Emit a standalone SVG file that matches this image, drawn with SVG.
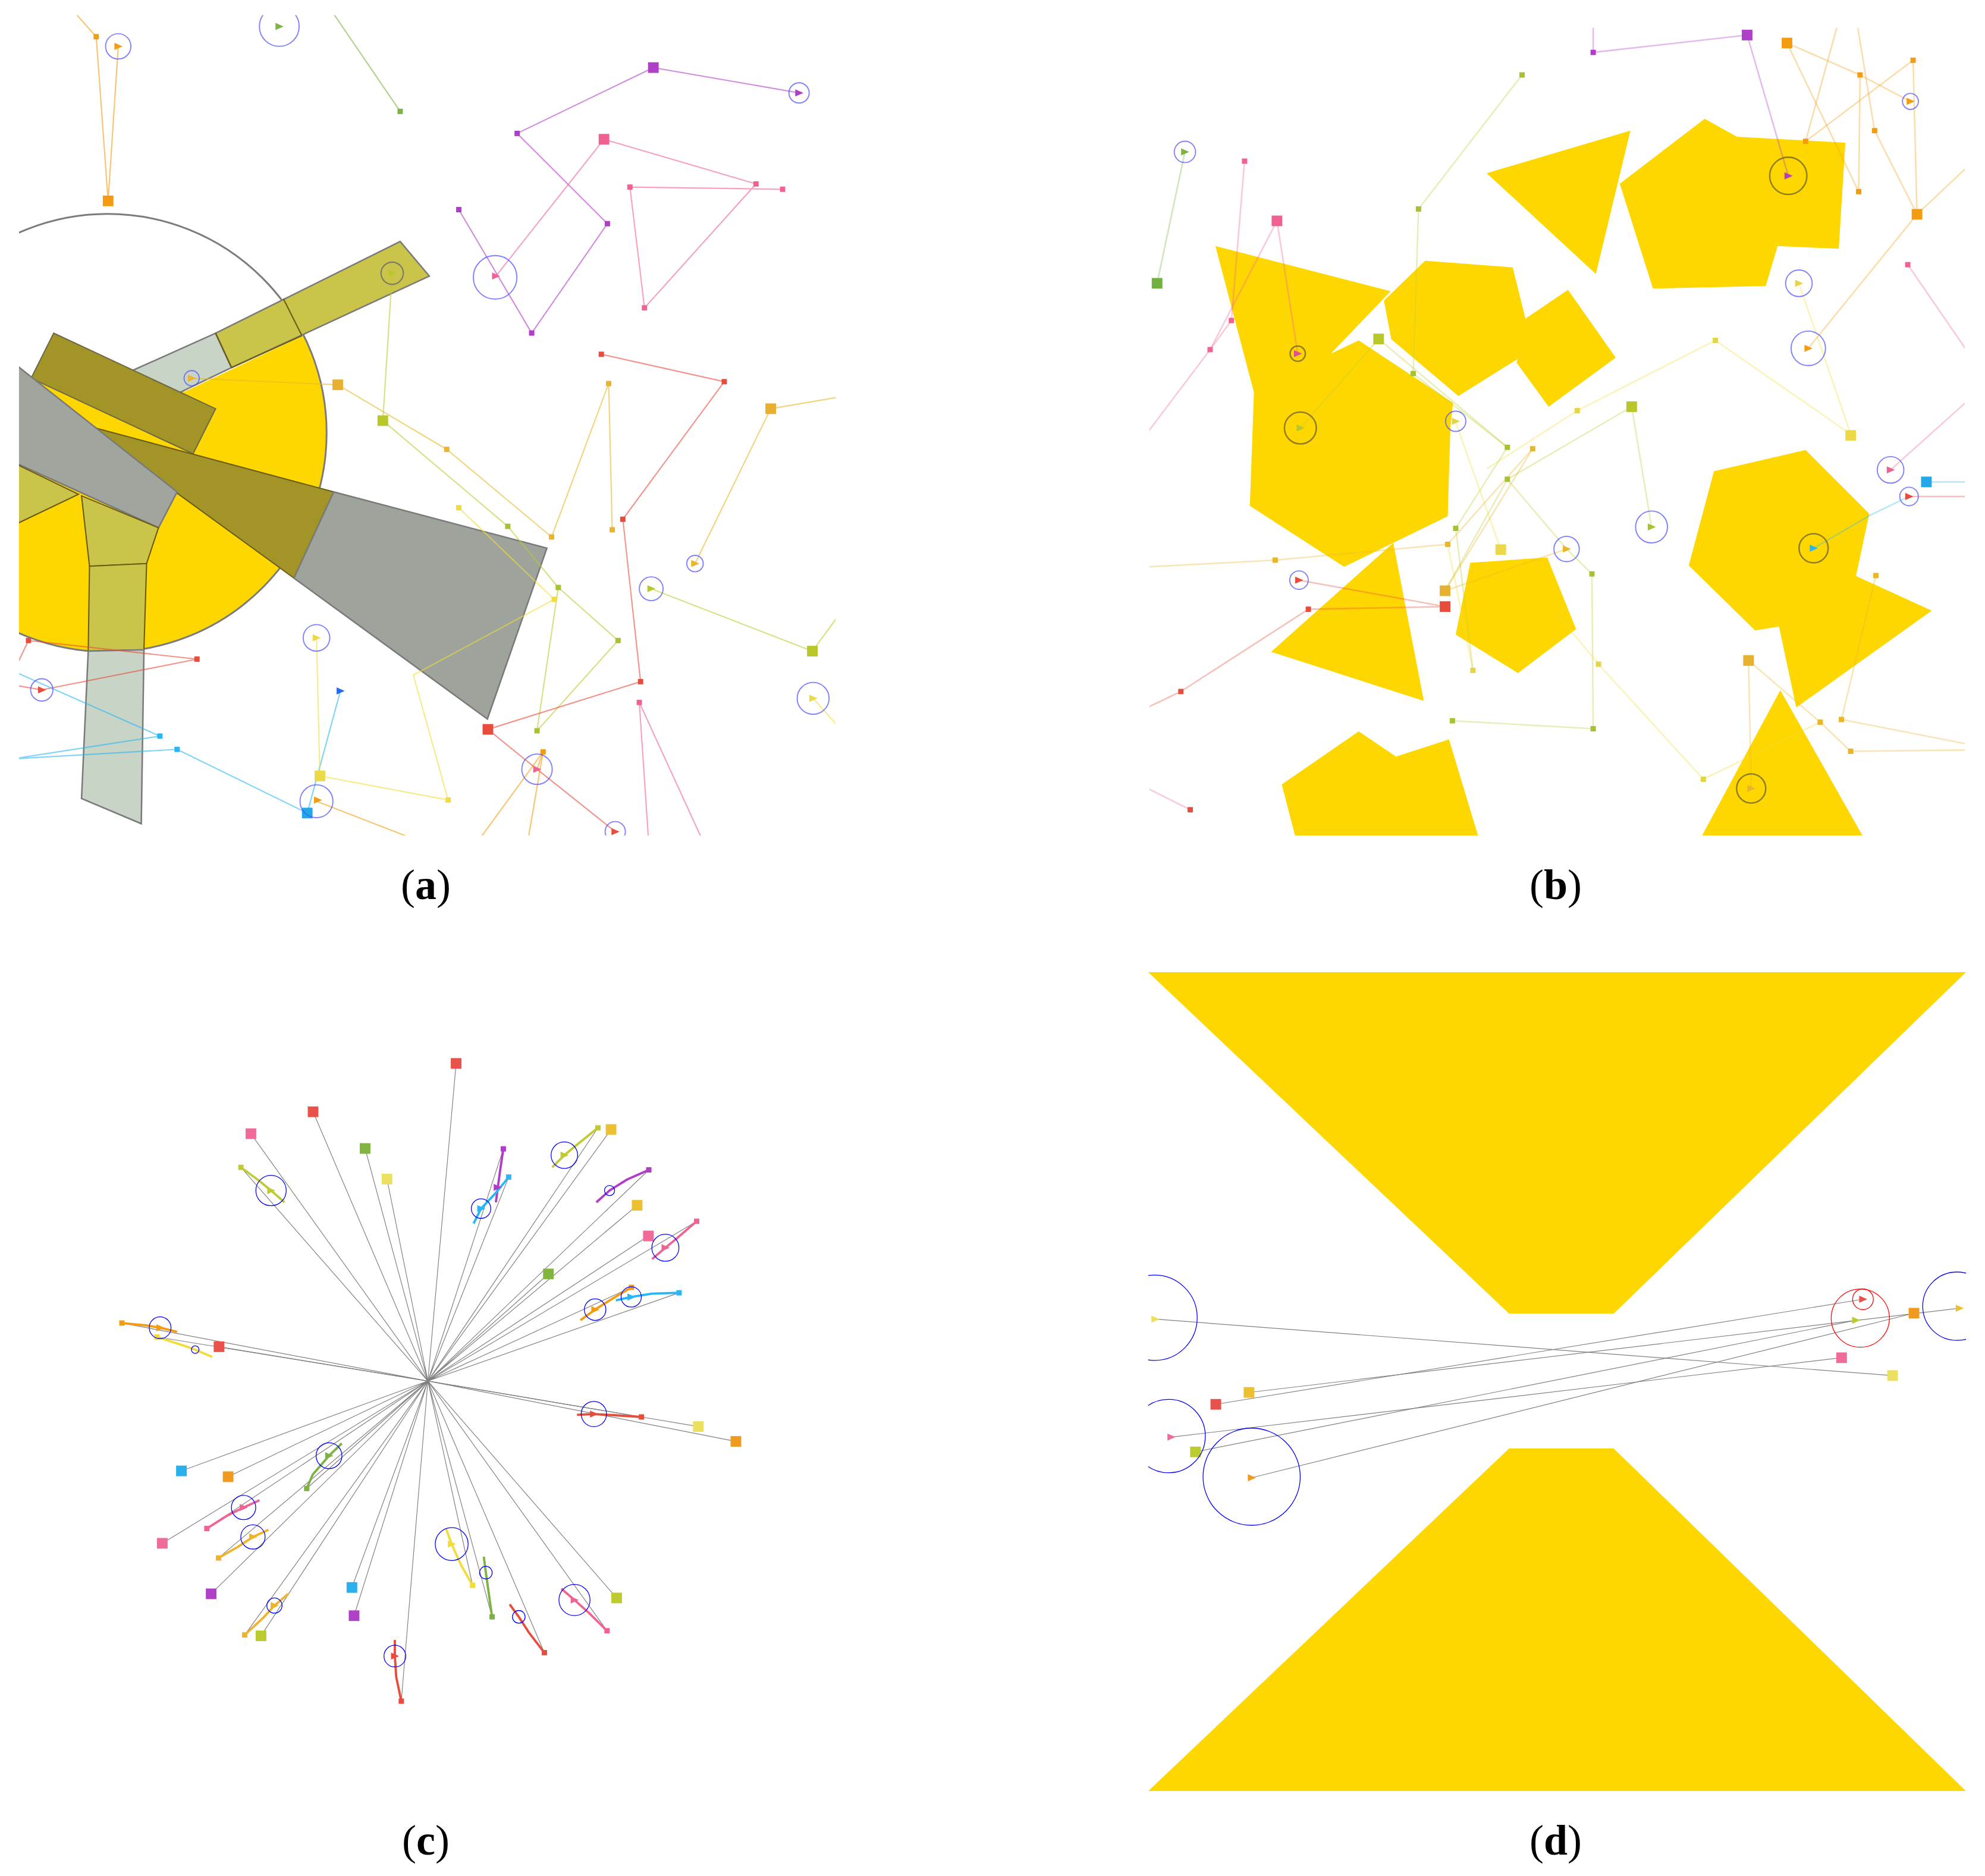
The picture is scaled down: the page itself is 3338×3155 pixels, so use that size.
<svg xmlns="http://www.w3.org/2000/svg" width="3338" height="3155" viewBox="0 0 3338 3155">
<style>
.ln{fill:none;stroke-width:1;stroke-linejoin:round;stroke-linecap:round}
.la{stroke-opacity:0.6}
.lb{stroke-opacity:0.35;stroke-width:1.2}
.bc{fill:none;stroke:#4d4dff;stroke-opacity:0.7;stroke-width:0.9}
.gc{fill:none;stroke:#6e6230;stroke-opacity:0.75;stroke-width:1.2}
.bo{stroke:#6b5d15;stroke-width:1}
.bg{stroke:#7a7a7a;stroke-width:1.2}
.yl{fill:#FFD700}
.gl{stroke:#808080;stroke-width:0.55;fill:none}
.pc{fill:none;stroke-width:1.8;stroke-linejoin:round}
.cb{fill:none;stroke:#0000ff;stroke-width:0.6}
.lab{font-family:'Liberation Serif','Times New Roman',serif;font-size:72px;fill:#000}
</style>
<defs>
<rect id="s" x="-2.1" y="-2.1" width="4.2" height="4.2"/>
<rect id="S" x="-4.2" y="-4.2" width="8.4" height="8.4"/>
<path id="t" d="M-3,-2.8 L3.4,0 L-3,2.8 Z"/>
<clipPath id="clipA"><rect x="15" y="12" width="645" height="648"/></clipPath>
<clipPath id="circA"><circle cx="85" cy="342" r="173"/></clipPath>
<clipPath id="clipB"><rect x="908" y="22" width="644" height="638"/></clipPath>
<clipPath id="clipD"><rect x="907" y="768" width="646" height="647"/></clipPath>
</defs>
<rect width="3338" height="3155" fill="#fff"/>
<g transform="scale(2.12883)">
<!-- ============ PANEL A ============ -->
<g id="panel-a" clip-path="url(#clipA)">
<circle cx="85" cy="342" r="173" fill="#fff"/>
<polygon class="yl" points="-10,270 25,298 146,309.3 339,218 400,218 400,700 -10,700" clip-path="url(#circA)"/>
<circle cx="85" cy="342" r="173" fill="none" stroke="#7b7b7b" stroke-width="1.4"/>
<polygon class="bg" fill="#c8d5c6" points="95,297 170.3,263.2 182.9,290.4 140,311"/>
<polygon class="bg" fill="#cbc44a" points="170.3,263.2 316.1,190.8 339.1,218.1 182.9,290.4"/>
<line class="bo" x1="170.3" y1="263.2" x2="182.9" y2="290.4"/>
<line class="bo" x1="223.8" y1="235.9" x2="238.5" y2="265.2"/>
<line class="bo" x1="182.9" y1="290.4" x2="238.5" y2="265.2"/>
<polygon fill="#a39428" stroke="#6f6a45" stroke-width="1" points="42.4,263.2 170.3,322.9 152.5,358.5 24.6,298.8"/>
<polygon class="bo" fill="#a39428" points="60,334 263.6,388.6 232.2,456.7 139.9,389.6"/>
<polygon class="bg" fill="#9ea39b" points="263.6,388.6 432,433 385,568 232.2,456.7"/>
<polygon class="bg" fill="#a0a59e" points="-5,274.4 139.9,388.6 125.2,416.9 -5,357.8"/>
<polygon class="bo" fill="#cbc44a" points="-5,358 62,390.5 -5,422.5"/>
<polygon class="bo" fill="#cbc44a" points="64.4,391.7 125.2,416.9 115.8,445.2 70.7,447.3"/>
<polygon class="bo" fill="#cbc44a" points="70.7,447.3 115.8,445.2 113.7,513.3 69.7,514.4"/>
<polygon class="bg" fill="#c8d5c6" points="69.7,514.4 113.7,513.3 111.6,650.7 64.4,630.8"/>
<g class="ln la">
<polyline stroke="#f39c12" points="60,11 76,29 85.4,158.7 93.4,36.6"/>
<polyline stroke="#f39c12" points="250,633 330,664"/>
<polyline stroke="#f39c12" points="378,664 429,594 417,664"/>
<line stroke="#f39c12" x1="429" y1="594" x2="424.2" y2="607.7"/>
<line stroke="#7cb342" x1="263.6" y1="11" x2="316.1" y2="88"/>
<polyline stroke="#c0ca33" points="309.8,215.9 302.4,332.3 401.1,415.8 441,464.1 488.2,506 424.2,577.3 441,464.1"/>
<polyline stroke="#c0ca33" points="514.4,465.1 641.7,514.4 664,484"/>
<polyline stroke="#eab52a" points="151.4,298.8 266.8,304 352.9,355 435.7,424.2 480.8,303 483.6,418.5"/>
<polyline stroke="#eab52a" points="664,313.5 608.8,322.9 549,445.2"/>
<polyline stroke="#b03cc8" points="631.2,73.4 516.1,53.4 408.5,105.4 479.8,176.7 420,263.1 362.4,165.6"/>
<polyline stroke="#f06292" points="391.7,218.1 477.1,110 597.2,145.3 509.1,243.2 497.6,147.8 618.2,149.5"/>
<polyline stroke="#f06292" points="512.3,664 505,554.9 555,664"/>
<polyline stroke="#e74c3c" points="475,279.9 572.1,301.5 492,410.2 506,538.5 385.4,576.2 424.2,607.7 486,657"/>
<polyline stroke="#e74c3c" points="10,532 22.5,506 155.6,520.7 33,545 10,541"/>
<polyline stroke="#29b6f6" points="10,530 126.3,581.5 10,599.5 139.9,592 242.7,642.3 268.9,545.8"/>
<polyline stroke="#f2dc3a" points="250,503.9 252.7,613 354,632 326.5,533.3 437.8,473.5 362.4,401.1"/>
<line stroke="#f2dc3a" x1="642.3" y1="551.7" x2="664" y2="576"/>
</g>
<g id="a-markers">
<use href="#s" x="76" y="29" fill="#f39c12"/><use href="#s" x="429" y="594" fill="#f39c12"/>
<use href="#s" x="316.1" y="88" fill="#7cb342"/>
<use href="#s" x="401.1" y="415.8" fill="#a5c233"/><use href="#s" x="441" y="464.1" fill="#a5c233"/><use href="#s" x="488.2" y="506" fill="#a5c233"/><use href="#s" x="424.2" y="577.3" fill="#a5c233"/>
<use href="#s" x="352.9" y="355" fill="#eab52a"/><use href="#s" x="435.7" y="424.2" fill="#eab52a"/><use href="#s" x="480.8" y="303" fill="#eab52a"/><use href="#s" x="483.6" y="418.5" fill="#eab52a"/>
<use href="#s" x="408.5" y="105.4" fill="#b03cc8"/><use href="#s" x="479.8" y="176.7" fill="#b03cc8"/><use href="#s" x="420" y="263.1" fill="#b03cc8"/><use href="#s" x="362.4" y="165.6" fill="#b03cc8"/>
<use href="#s" x="597.2" y="145.3" fill="#f06292"/><use href="#s" x="509.1" y="243.2" fill="#f06292"/><use href="#s" x="497.6" y="147.8" fill="#f06292"/><use href="#s" x="618.2" y="149.5" fill="#f06292"/><use href="#s" x="505" y="554.9" fill="#f06292"/>
<use href="#s" x="475" y="279.9" fill="#e74c3c"/><use href="#s" x="572.1" y="301.5" fill="#e74c3c"/><use href="#s" x="492" y="410.2" fill="#e74c3c"/><use href="#s" x="506" y="538.5" fill="#e74c3c"/><use href="#s" x="22.5" y="506" fill="#e74c3c"/><use href="#s" x="155.6" y="520.7" fill="#e74c3c"/>
<use href="#s" x="126.3" y="581.5" fill="#29b6f6"/><use href="#s" x="139.9" y="592" fill="#29b6f6"/>
<use href="#s" x="354" y="632" fill="#f2dc3a"/><use href="#s" x="362.4" y="401.1" fill="#f2dc3a"/><use href="#s" x="437.8" y="473.5" fill="#f2dc3a"/>
<use href="#S" x="85.4" y="158.7" fill="#f39c12"/>
<use href="#S" x="302.4" y="332.3" fill="#b8c82a"/><use href="#S" x="641.7" y="514.4" fill="#b8c82a"/>
<use href="#S" x="266.8" y="304" fill="#e8b030"/><use href="#S" x="608.8" y="322.9" fill="#e8b030"/>
<use href="#S" x="516.1" y="53.4" fill="#b040c8"/>
<use href="#S" x="477.1" y="110" fill="#f06090"/>
<use href="#S" x="385.4" y="576.2" fill="#e84c3c"/>
<use href="#S" x="242.7" y="642.3" fill="#20a8e8"/>
<use href="#S" x="252.7" y="613" fill="#ecd94a"/>
<use href="#t" x="93.4" y="36.6" fill="#f39c12"/>
<use href="#t" x="220.6" y="20.9" fill="#7cb342"/>
<use href="#t" x="631.2" y="73.4" fill="#b03cc8"/>
<use href="#t" x="391.7" y="218.1" fill="#f06292"/>
<use href="#t" x="151.4" y="298.8" fill="#eab52a"/>
<use href="#t" x="549" y="445.2" fill="#eab52a"/>
<use href="#t" x="514.4" y="465.1" fill="#b8c82a"/>
<use href="#t" x="642.3" y="551.7" fill="#ecd94a"/>
<use href="#t" x="424.2" y="607.7" fill="#f06292"/>
<use href="#t" x="486" y="657" fill="#e74c3c"/>
<use href="#t" x="33" y="545" fill="#e74c3c"/>
<use href="#t" x="250" y="503.9" fill="#ecd94a"/>
<use href="#t" x="251" y="632" fill="#f39c12"/>
<use href="#t" x="309.8" y="215.9" fill="#b8c82a"/>
<use href="#t" x="268.9" y="545.8" fill="#2a6ae8"/>
<circle class="bc" cx="93.4" cy="36.6" r="10"/>
<circle class="bc" cx="220.6" cy="20.9" r="15.7"/>
<circle class="bc" cx="631.2" cy="73.4" r="8"/>
<circle class="bc" cx="391.1" cy="219.1" r="17.2"/>
<circle class="bc" cx="151.4" cy="298.8" r="6"/>
<circle class="bc" cx="549" cy="445.2" r="6.5"/>
<circle class="bc" cx="514.4" cy="465.1" r="9.4"/>
<circle class="bc" cx="642.3" cy="551.7" r="12.6"/>
<circle class="bc" cx="424.2" cy="607.7" r="12"/>
<circle class="bc" cx="486" cy="657" r="8"/>
<circle class="bc" cx="33" cy="545" r="8.8"/>
<circle class="bc" cx="250" cy="503.9" r="10.5"/>
<circle class="bc" cx="250" cy="633" r="13"/>
<circle fill="none" stroke="#7a7a6a" stroke-width="1" cx="309.8" cy="215.9" r="8.8"/>
</g>
</g>
<!-- ============ PANEL B ============ -->
<g id="panel-b" clip-path="url(#clipB)">
<g class="yl">
<polygon points="1174.4,136.8 1287.9,103.2 1260.6,216.4"/>
<polygon points="1279.5,145.2 1346.6,93.8 1372,108 1457.7,112.7 1452.5,196.5 1404.2,194.4 1394.8,225.9 1305.7,228"/>
<polygon points="960.1,194.4 1098.5,230.1 1051.3,279.4 1073.3,268.9 1147.8,318.2 1145.7,337.7 1143.6,407.9 1061.8,447.8 987.3,399.6 990.5,310"/>
<polygon points="1125.7,206 1194.9,211.2 1211,276 1152,312.9 1099,268 1093.2,237.4"/>
<polygon points="1204.4,252.1 1238.6,229 1276.3,282.5 1223.3,321.3 1198.1,286.7"/>
<polygon points="1004.1,514.9 1100.6,428.9 1124.7,553.7"/>
<polygon points="1161.4,444.6 1222.2,440.4 1245,497 1199.1,531.7 1149.9,501.3"/>
<polygon points="1012.5,619.7 1073.3,577.8 1102.7,597.7 1144.6,584.1 1168.7,664 1024,664"/>
<polygon points="1353.9,372.3 1426.3,355.5 1476.6,405.8 1466.1,455.1 1525.9,482.4 1418.9,558.9 1405.3,495 1386.4,498.1 1334,446.7"/>
<polygon points="1406.3,545.3 1473.4,664 1342.4,664"/>
</g>
<g class="ln lb">
<line stroke="#7cb342" x1="936" y1="120" x2="914" y2="223.8"/>
<polyline stroke="#f06292" points="983.1,127.3 972.7,253.2 955.9,276.2 904,345"/>
<polyline stroke="#f06292" points="955.9,276.2 1008.7,174.5 1025.1,279.4"/>
<line stroke="#f06292" x1="904" y1="621.5" x2="940.2" y2="639.7"/>
<polyline stroke="#c0ca33" points="1202.3,59.2 1120.5,165.1 1116.3,295.1 1190.7,353.4"/>
<polyline stroke="#c0ca33" points="1027.2,338.1 1089,267.8 1190.7,353.4 1149.9,417.4 1163.5,529.6"/>
<polyline stroke="#c0ca33" points="1304.6,416.3 1288.9,321.3 1190.7,378.6 1141.5,466.7"/>
<polyline stroke="#c0ca33" points="1190.7,378.6 1237.5,433.7 1257.5,453.4 1258.5,575.7 1147.3,569.4"/>
<polyline stroke="#b03cc8" points="1258.5,20 1258.5,41.4 1380.1,27.7 1412.6,138.9"/>
<polyline stroke="#f39c12" points="1509.1,80.1 1469.3,59.2 1411.6,34 1468.2,151.4"/>
<polyline stroke="#f39c12" points="1451.4,20 1426.3,111.6 1511.2,47.6 1514.3,169.3"/>
<polyline stroke="#f39c12" points="1467.2,20 1480.8,103.2 1514.3,169.3 1428.4,275.2"/>
<line stroke="#f39c12" x1="1514.3" y1="169.3" x2="1555" y2="131"/>
<line stroke="#f39c12" x1="1469.3" y1="59.2" x2="1468.2" y2="151.4"/>
<polyline stroke="#f2dc3a" points="1421,223.8 1461.9,343 1355,268.9 1245.9,324.4 1175,370"/>
<polyline stroke="#f2dc3a" points="1149.9,333.5 1185.5,434.2"/>
<polyline stroke="#f2dc3a" points="1230,485 1262.7,524.7 1345.5,615.6 1437.8,570.5"/>
<polyline stroke="#f2dc3a" points="1143.6,430 1163.5,529.6"/>
<polyline stroke="#eab52a" points="904,448 1007.3,442.5 1143.6,430 1210.7,354.5"/>
<polyline stroke="#eab52a" points="1141.5,466.7 1210.7,354.5"/>
<polyline stroke="#eab52a" points="1141.5,466.7 1237.5,433.7"/>
<polyline stroke="#eab52a" points="1383.3,622.9 1381.2,521.8 1437.8,570.5 1461.9,593.5 1555,592.5"/>
<polyline stroke="#eab52a" points="1481.8,454.7 1454.6,568.4 1555,588"/>
<polyline stroke="#e74c3c" points="1026.1,458.3 1141.5,479.2 1033.5,481.3 932.8,546.3 904,560"/>
<line stroke="#e74c3c" x1="1508" y1="392.2" x2="1555" y2="392.2"/>
<line stroke="#f06292" x1="1507" y1="209.1" x2="1555" y2="279"/>
<line stroke="#f06292" x1="1493.4" y1="371.2" x2="1555" y2="316"/>
<line stroke="#29b6f6" x1="1521.7" y1="380.7" x2="1555" y2="380.7"/>
<polyline stroke="#29b6f6" points="1432.6,433.1 1477.6,406.9 1508,392.2"/>
</g>
<g id="b-markers">
<use href="#S" x="914" y="223.8" fill="#72b040"/>
<use href="#S" x="1008.7" y="174.5" fill="#f06090"/>
<use href="#S" x="1089" y="267.8" fill="#b8c82a"/>
<use href="#S" x="1288.9" y="321.3" fill="#b8c82a"/>
<use href="#S" x="1380.1" y="27.7" fill="#b040c8"/>
<use href="#S" x="1411.6" y="34" fill="#f39c12"/>
<use href="#S" x="1514.3" y="169.3" fill="#f39c12"/>
<use href="#S" x="1461.9" y="344" fill="#ecd94a"/>
<use href="#S" x="1185.5" y="434.2" fill="#ecd94a"/>
<use href="#S" x="1141.5" y="466.7" fill="#e8b030"/>
<use href="#S" x="1141.5" y="479.2" fill="#e84c3c"/>
<use href="#S" x="1381.2" y="521.8" fill="#e8b030"/>
<use href="#S" x="1521.7" y="380.7" fill="#20a8e8"/>
<use href="#s" x="983.1" y="127.3" fill="#f06292"/><use href="#s" x="972.7" y="253.2" fill="#f06292"/><use href="#s" x="955.9" y="276.2" fill="#f06292"/><use href="#s" x="940.2" y="639.7" fill="#e74c3c"/><use href="#s" x="1507" y="209.1" fill="#f06292"/>
<use href="#s" x="1202.3" y="59.2" fill="#a5c233"/><use href="#s" x="1120.5" y="165.1" fill="#a5c233"/><use href="#s" x="1116.3" y="295.1" fill="#a5c233"/><use href="#s" x="1190.7" y="353.4" fill="#a5c233"/><use href="#s" x="1190.7" y="378.6" fill="#a5c233"/><use href="#s" x="1149.9" y="417.4" fill="#a5c233"/><use href="#s" x="1163.5" y="529.6" fill="#e2d54a"/><use href="#s" x="1147.3" y="569.4" fill="#a5c233"/><use href="#s" x="1257.5" y="453.4" fill="#a5c233"/><use href="#s" x="1258.5" y="575.7" fill="#a5c233"/>
<use href="#s" x="1258.5" y="41.4" fill="#b03cc8"/>
<use href="#s" x="1469.3" y="59.2" fill="#f39c12"/><use href="#s" x="1511.2" y="47.6" fill="#f39c12"/><use href="#s" x="1480.8" y="103.2" fill="#f39c12"/><use href="#s" x="1426.3" y="111.6" fill="#f39c12"/><use href="#s" x="1468.2" y="151.4" fill="#f39c12"/>
<use href="#s" x="1355" y="268.9" fill="#e2d54a"/><use href="#s" x="1245.9" y="324.4" fill="#e2d54a"/><use href="#s" x="1262.7" y="524.7" fill="#e2d54a"/><use href="#s" x="1345.5" y="615.6" fill="#e2d54a"/>
<use href="#s" x="1007.3" y="442.5" fill="#eab52a"/><use href="#s" x="1143.6" y="430" fill="#eab52a"/><use href="#s" x="1210.7" y="354.5" fill="#eab52a"/><use href="#s" x="1437.8" y="570.5" fill="#eab52a"/><use href="#s" x="1461.9" y="593.5" fill="#eab52a"/><use href="#s" x="1454.6" y="568.4" fill="#eab52a"/><use href="#s" x="1481.8" y="454.7" fill="#eab52a"/>
<use href="#s" x="1033.5" y="481.3" fill="#e74c3c"/><use href="#s" x="932.8" y="546.3" fill="#e74c3c"/>
<use href="#t" x="936" y="120" fill="#7cb342"/>
<use href="#t" x="1025.1" y="279.4" fill="#e0508f"/>
<use href="#t" x="1027.2" y="338.1" fill="#b8c82a"/>
<use href="#t" x="1149.9" y="332.8" fill="#e2d54a"/>
<use href="#t" x="1412.6" y="138.9" fill="#b03cc8"/>
<use href="#t" x="1509.1" y="80.1" fill="#f39c12"/>
<use href="#t" x="1421" y="223.8" fill="#e2d54a"/>
<use href="#t" x="1428.4" y="275.2" fill="#f39c12"/>
<use href="#t" x="1026.1" y="458.3" fill="#e74c3c"/>
<use href="#t" x="1237.5" y="433.7" fill="#eab52a"/>
<use href="#t" x="1304.6" y="416.3" fill="#a5c233"/>
<use href="#t" x="1383.3" y="622.9" fill="#eab52a"/>
<use href="#t" x="1493.4" y="371.2" fill="#f06292"/>
<use href="#t" x="1508" y="392.2" fill="#e74c3c"/>
<use href="#t" x="1432.6" y="433.1" fill="#29b6f6"/>
<circle class="bc" cx="936" cy="120" r="8.4"/>
<circle class="gc" cx="1025.1" cy="279.4" r="6"/>
<circle class="gc" cx="1027.2" cy="338.1" r="12.6"/>
<circle class="bc" cx="1149.9" cy="332.8" r="8"/>
<circle class="gc" cx="1412.6" cy="138.9" r="14.7"/>
<circle class="bc" cx="1509.1" cy="80.1" r="6.3"/>
<circle class="bc" cx="1421" cy="223.8" r="10.5"/>
<circle class="bc" cx="1428.4" cy="275.2" r="13.6"/>
<circle class="bc" cx="1026.1" cy="458.3" r="7.3"/>
<circle class="bc" cx="1237.5" cy="433.7" r="10"/>
<circle class="bc" cx="1304.6" cy="416.3" r="12.6"/>
<circle class="gc" cx="1383.3" cy="622.9" r="11.5"/>
<circle class="bc" cx="1493.4" cy="371.2" r="10.5"/>
<circle class="bc" cx="1508" cy="392.2" r="7.3"/>
<circle class="gc" cx="1432.6" cy="433.1" r="11.5"/>
</g>
</g>
<!-- ============ PANEL C ============ -->
<g id="panel-c">
<g class="gl">
<path d="M338,1091L360.3,840.1M338,1091L247.3,878.3M338,1091L198.2,895.6M338,1091L288.4,907.3M338,1091L305.7,931.5M338,1091L482.7,892.3M338,1091L503.3,952.2M338,1091L512.2,976.4M338,1091L433.2,1006.4M338,1091L173,1063.9M338,1091L551.6,1127M338,1091L581.3,1138.7M338,1091L143.3,1162M338,1091L180.2,1166.6M338,1091L128.2,1219.2M338,1091L166.8,1259.1M338,1091L278,1254.1M338,1091L279.7,1276.4M338,1091L206.2,1292.3M338,1091L487.1,1262.4"/>
<path d="M338,1091L190.3,922.2M338,1091L96.3,1045.2M338,1091L124,1056.2M338,1091L242.3,1175.9M338,1091L163.4,1207.5M338,1091L172.6,1230.8M338,1091L193.3,1291.6M338,1091L317,1343.9M338,1091L397.6,907.6M338,1091L401.8,929.9M338,1091L472.3,891M338,1091L512.5,924.2M338,1091L550.3,964.8M338,1091L498.8,1017M338,1091L536.4,1021.3M338,1091L506.7,1119.4M338,1091L373.3,1252.4M338,1091L388.7,1277.3M338,1091L430,1305.6M338,1091L479.5,1288.3"/>
</g>
<g id="c-paths">
<polyline class="pc" stroke="#c0ca33" points="190.3,922.2 205,933 214.1,940.5 224.7,949.8"/>
<polyline class="pc" stroke="#f39c12" points="96.3,1045.2 115,1047 126.5,1048.9 139.9,1052.2"/>
<polyline class="pc" stroke="#f2dc3a" points="124,1056.2 145,1063 154.2,1066.2 167.6,1071.9"/>
<polyline class="pc" stroke="#7cb342" points="242.3,1175.9 247,1165 259.9,1150 270,1140.3"/>
<polyline class="pc" stroke="#f06292" points="163.4,1207.5 180,1197 192.4,1190.9 205,1185.2"/>
<polyline class="pc" stroke="#f0b429" points="172.6,1230.8 188,1222 199.8,1214.2 212.1,1208.5"/>
<polyline class="pc" stroke="#f0b429" points="193.3,1291.6 208,1278 216.8,1268.4 227.7,1259.1"/>
<polyline class="pc" stroke="#e74c3c" points="317,1343.9 313,1325 311.9,1308.3 311.9,1295.6"/>
<polyline class="pc" stroke="#b03cc8" points="397.6,907.6 395,925 393,940 391.7,949.8"/>
<polyline class="pc" stroke="#29b6f6" points="401.8,929.9 392,942 380,954.8 374.1,966.5"/>
<polyline class="pc" stroke="#c0ca33" points="472.3,891 455,905 445.8,912.6 436.2,922.2"/>
<polyline class="pc" stroke="#b03cc8" points="512.5,924.2 495,932 481.5,940.5 471.1,949.8"/>
<polyline class="pc" stroke="#f06292" points="550.3,964.8 535,978 525.6,985.7 515.1,994.7"/>
<polyline class="pc" stroke="#f39c12" points="498.8,1017 482,1027 470.1,1034.6 458.5,1042.9"/>
<polyline class="pc" stroke="#29b6f6" points="536.4,1021.3 515,1022 498.6,1024.6 486.5,1027.3"/>
<polyline class="pc" stroke="#e74c3c" points="506.7,1119.4 485,1118 469.1,1117.1 455.8,1117.7"/>
<polyline class="pc" stroke="#f2dc3a" points="373.3,1252.4 364,1236 356.8,1219.8 352.3,1207.5"/>
<polyline class="pc" stroke="#7cb342" points="388.7,1277.3 386,1258 383.8,1242.4 382.2,1229.8"/>
<polyline class="pc" stroke="#e74c3c" points="430,1305.6 418,1290 409.8,1277.3 402.6,1267.4"/>
<polyline class="pc" stroke="#f06292" points="479.5,1288.3 465,1274 453.8,1264 443.4,1255"/>
</g>
<g id="c-markers">
<use href="#S" x="360.3" y="840.1" fill="#e8524a"/><use href="#S" x="247.3" y="878.3" fill="#e8524a"/><use href="#S" x="198.2" y="895.6" fill="#f06a9a"/><use href="#S" x="288.4" y="907.3" fill="#82b540"/><use href="#S" x="305.7" y="931.5" fill="#ece060"/><use href="#S" x="482.7" y="892.3" fill="#ecc030"/><use href="#S" x="503.3" y="952.2" fill="#ecc030"/><use href="#S" x="512.2" y="976.4" fill="#f06a9a"/><use href="#S" x="433.2" y="1006.4" fill="#82b540"/><use href="#S" x="173" y="1063.9" fill="#e8524a"/><use href="#S" x="551.6" y="1127" fill="#ece060"/><use href="#S" x="581.3" y="1138.7" fill="#f09a20"/><use href="#S" x="143.3" y="1162" fill="#2ab0ec"/><use href="#S" x="180.2" y="1166.6" fill="#f09a20"/><use href="#S" x="128.2" y="1219.2" fill="#f06a9a"/><use href="#S" x="166.8" y="1259.1" fill="#b040c8"/><use href="#S" x="278" y="1254.1" fill="#2ab0ec"/><use href="#S" x="279.7" y="1276.4" fill="#b040c8"/><use href="#S" x="206.2" y="1292.3" fill="#bccc30"/><use href="#S" x="487.1" y="1262.4" fill="#bccc30"/>
<use href="#s" x="190.3" y="922.2" fill="#c0ca33"/><use href="#s" x="96.3" y="1045.2" fill="#f39c12"/><use href="#s" x="124" y="1056.2" fill="#f2dc3a"/><use href="#s" x="242.3" y="1175.9" fill="#7cb342"/><use href="#s" x="163.4" y="1207.5" fill="#f06292"/><use href="#s" x="172.6" y="1230.8" fill="#f0b429"/><use href="#s" x="193.3" y="1291.6" fill="#f0b429"/><use href="#s" x="317" y="1343.9" fill="#e74c3c"/><use href="#s" x="397.6" y="907.6" fill="#b03cc8"/><use href="#s" x="401.8" y="929.9" fill="#29b6f6"/><use href="#s" x="472.3" y="891" fill="#c0ca33"/><use href="#s" x="512.5" y="924.2" fill="#b03cc8"/><use href="#s" x="550.3" y="964.8" fill="#f06292"/><use href="#s" x="498.8" y="1017" fill="#f39c12"/><use href="#s" x="536.4" y="1021.3" fill="#29b6f6"/><use href="#s" x="506.7" y="1119.4" fill="#e74c3c"/><use href="#s" x="373.3" y="1252.4" fill="#f2dc3a"/><use href="#s" x="388.7" y="1277.3" fill="#7cb342"/><use href="#s" x="430" y="1305.6" fill="#e74c3c"/><use href="#s" x="479.5" y="1288.3" fill="#f06292"/>
<use href="#t" x="214.1" y="940.5" fill="#c0ca33"/><use href="#t" x="126.5" y="1048.9" fill="#f39c12"/><use href="#t" x="259.9" y="1150" fill="#7cb342"/><use href="#t" x="192.4" y="1190.9" fill="#f06292"/><use href="#t" x="199.8" y="1214.2" fill="#f0b429"/><use href="#t" x="216.8" y="1268.4" fill="#f0b429"/><use href="#t" x="311.9" y="1308.3" fill="#e74c3c"/><use href="#t" x="393" y="938" fill="#b03cc8"/><use href="#t" x="380" y="954.8" fill="#29b6f6"/><use href="#t" x="445.8" y="912.6" fill="#c0ca33"/><use href="#t" x="525.6" y="985.7" fill="#f06292"/><use href="#t" x="470.1" y="1034.6" fill="#f39c12"/><use href="#t" x="498.6" y="1024.6" fill="#29b6f6"/><use href="#t" x="469.1" y="1117.1" fill="#e74c3c"/><use href="#t" x="356.8" y="1219.8" fill="#f2dc3a"/><use href="#t" x="453.8" y="1264" fill="#f06292"/>
<circle class="cb" cx="214.1" cy="940.5" r="12"/><circle class="cb" cx="126.5" cy="1048.9" r="8.6"/><circle class="cb" cx="154.2" cy="1066.2" r="3"/><circle class="cb" cx="259.9" cy="1150" r="10.2"/><circle class="cb" cx="192.4" cy="1190.9" r="9.6"/><circle class="cb" cx="199.8" cy="1214.2" r="9.6"/><circle class="cb" cx="216.8" cy="1268.4" r="6"/><circle class="cb" cx="311.9" cy="1308.3" r="8.6"/><circle class="cb" cx="380" cy="954.8" r="7.7"/><circle class="cb" cx="445.8" cy="912.6" r="10.5"/><circle class="cb" cx="481.5" cy="940.5" r="4"/><circle class="cb" cx="525.6" cy="985.7" r="10.7"/><circle class="cb" cx="470.1" cy="1034.6" r="8.5"/><circle class="cb" cx="498.6" cy="1024.6" r="8"/><circle class="cb" cx="469.1" cy="1117.1" r="10"/><circle class="cb" cx="356.8" cy="1219.8" r="13"/><circle class="cb" cx="383.8" cy="1242.4" r="5"/><circle class="cb" cx="409.8" cy="1277.3" r="5"/><circle class="cb" cx="453.8" cy="1264" r="12.3"/>
</g>
</g>
<!-- ============ PANEL D ============ -->
<g id="panel-d" clip-path="url(#clipD)">
<polygon class="yl" points="907,768 1553,768 1274.7,1037.8 1192.1,1037.8"/>
<polygon class="yl" points="1192.1,1144.3 1274.7,1144.3 1553,1415 907,1415"/>
<g class="gl" stroke-width="0.85">
<line x1="912.5" y1="1042.1" x2="1495" y2="1086.7"/>
<line x1="986.6" y1="1100" x2="1547.9" y2="1033.5"/>
<line x1="960.4" y1="1109.4" x2="1471.6" y2="1026.4"/>
<line x1="944.3" y1="1147" x2="1466" y2="1043"/>
<line x1="925.2" y1="1135.3" x2="1454.7" y2="1072.6"/>
<line x1="988.7" y1="1167.4" x2="1511.9" y2="1037.4"/>
</g>
<use href="#S" x="986.6" y="1100" fill="#ecc030"/>
<use href="#S" x="960.4" y="1109.4" fill="#e8524a"/>
<use href="#S" x="944.3" y="1147" fill="#bccc30"/>
<use href="#S" x="1454.7" y="1072.6" fill="#f06a9a"/>
<use href="#S" x="1495" y="1086.7" fill="#ece060"/>
<use href="#S" x="1511.9" y="1037.4" fill="#f09a20"/>
<use href="#t" x="912.5" y="1042.1" fill="#ece060"/>
<use href="#t" x="1471.6" y="1026.4" fill="#e8524a"/>
<use href="#t" x="1466" y="1043" fill="#bccc30"/>
<use href="#t" x="1547.9" y="1033.5" fill="#ecc030"/>
<use href="#t" x="925.2" y="1135.3" fill="#f06a9a"/>
<use href="#t" x="988.7" y="1167.4" fill="#f09a20"/>
<circle class="cb" cx="912" cy="1041" r="33.7"/>
<circle class="cb" cx="1545.8" cy="1031.9" r="27"/>
<circle class="cb" cx="923.1" cy="1134.5" r="29"/>
<circle class="cb" cx="988.7" cy="1166.6" r="38.4"/>
<circle fill="none" stroke="#ff0000" stroke-width="0.6" cx="1471.6" cy="1026.4" r="8.2"/>
<circle fill="none" stroke="#ff0000" stroke-width="0.6" cx="1469.5" cy="1041.3" r="23"/>
</g>
</g>
<!-- labels -->
<text class="lab" x="716" y="1512" text-anchor="middle">(<tspan font-weight="bold">a</tspan>)</text>
<text class="lab" x="2616" y="1512" text-anchor="middle">(<tspan font-weight="bold">b</tspan>)</text>
<text class="lab" x="716" y="3119" text-anchor="middle">(<tspan font-weight="bold">c</tspan>)</text>
<text class="lab" x="2616" y="3119" text-anchor="middle">(<tspan font-weight="bold">d</tspan>)</text>
</svg>
